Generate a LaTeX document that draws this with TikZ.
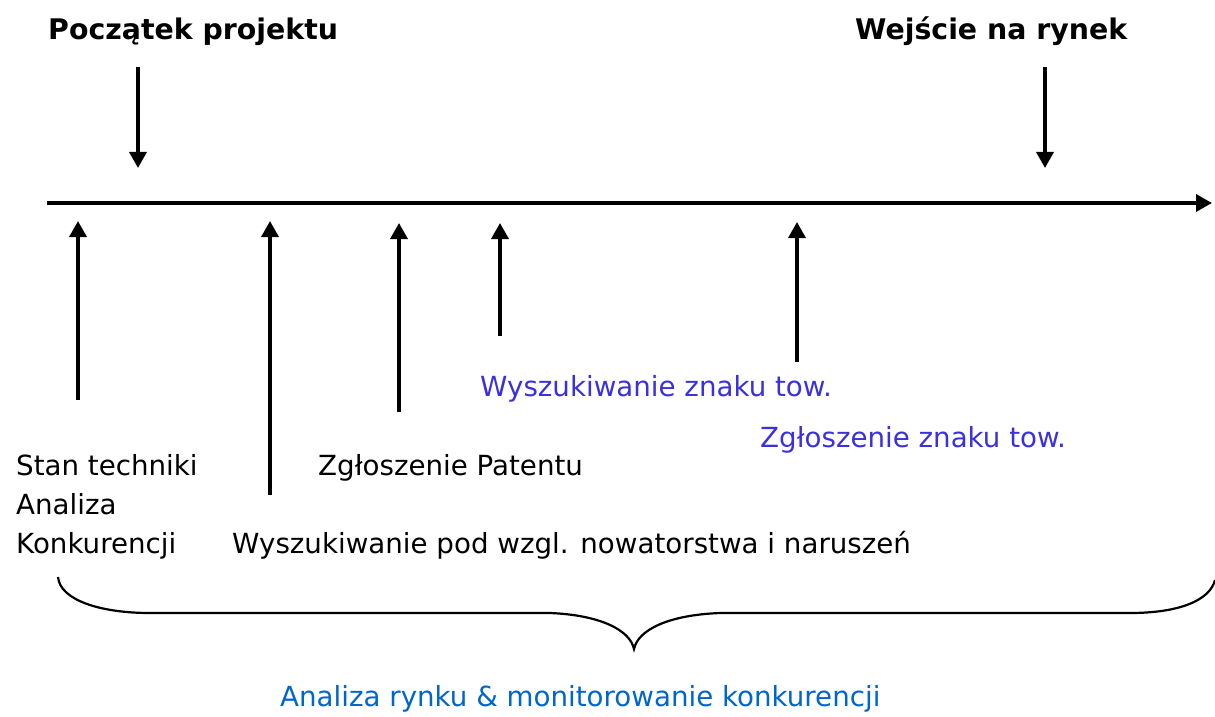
\documentclass[tikz,border=0pt]{standalone}
\usepackage{fontspec}
\setmainfont{DejaVu Sans}
\usepackage{tikz}
\usetikzlibrary{arrows.meta,positioning}
\definecolor{tmblue}{RGB}{58,48,222}
\definecolor{mktblue}{RGB}{0,102,204}

\begin{document}
\begin{tikzpicture}[x=1bp,y=-1bp,
    milestone/.style={anchor=base west,inner sep=0pt,font=\fontsize{28.5}{34}\selectfont\bfseries},
    label/.style={anchor=base west,inner sep=0pt,align=left,font=\fontsize{27.8}{39}\selectfont},
    tick/.style={line width=3.4bp,-{Triangle[length=16bp,width=17bp]}}]
    \useasboundingbox (0,0) rectangle (1215,717);
    \node[milestone] (start)  at (48,40)  {Początek projektu};
    \node[milestone] (market) at (855,40) {Wejście na rynek};
    \coordinate (t0) at (47,203);
    \coordinate (t1) at (1212,203);
    \draw[tick] (t0) -- (t1);
    \coordinate (s0) at (138,67);   \coordinate (s1) at (138,168);
    \coordinate (m0) at (1045,67);  \coordinate (m1) at (1045,168);
    \draw[tick] (s0) -- (s1);
    \draw[tick] (m0) -- (m1);
    \node[label] (tech)   at (16,553)  {Stan techniki\\Analiza\\Konkurencji};
    \node[label] (patent) at (318,475) {Zgłoszenie Patentu};
    \node[label] (search) at (232,553) {Wyszukiwanie pod wzgl. nowatorstwa i naruszeń};
    \node[label,text=tmblue] (tmsearch) at (480,396) {Wyszukiwanie znaku tow.};
    \node[label,text=tmblue] (tmfile)   at (760,447) {Zgłoszenie znaku tow.};
    \coordinate (a0) at (78,400);  \coordinate (a1) at (78,221);
    \coordinate (b0) at (270,495); \coordinate (b1) at (270,221);
    \coordinate (c0) at (399,412); \coordinate (c1) at (399,223);
    \coordinate (d0) at (500,336); \coordinate (d1) at (500,223);
    \coordinate (e0) at (797,362); \coordinate (e1) at (797,222);
    \foreach \p in {a,b,c,d,e}
        \draw[tick] (\p0) -- (\p1);
    \coordinate (bl) at (58,577);
    \coordinate (br) at (1215,580);
    \coordinate (tip) at (634,649);
    \draw[line width=2.2bp] (bl) .. controls (60,600) and (100,613) .. (150,613) -- (550,613)
        .. controls (600,615) and (630,630) .. (tip)
        .. controls (638,630) and (668,615) .. (720,613) -- (1130,613)
        .. controls (1180,613) and (1210,600) .. (br);
    \node[label,text=mktblue] (mkt) at (280,706) {Analiza rynku \& monitorowanie konkurencji};
\end{tikzpicture}
\end{document}
